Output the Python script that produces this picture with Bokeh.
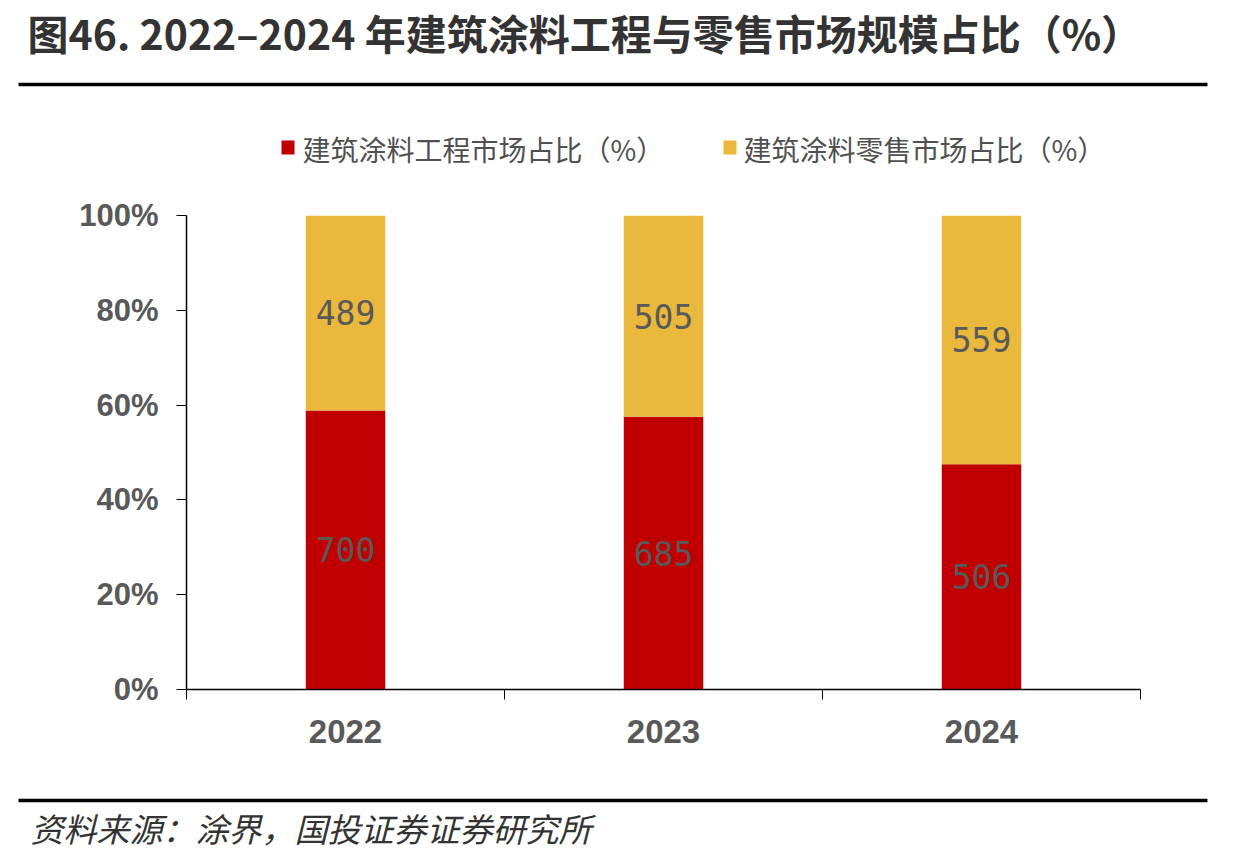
from bokeh.plotting import figure
from bokeh.layouts import column
from bokeh.models import (ColumnDataSource, Range1d, FixedTicker, NumeralTickFormatter,
                          CustomJSTickFormatter)
from bokeh.core.properties import value
from bokeh.embed import file_html
from bokeh.resources import INLINE

# Market size data (亿元) for architectural coatings
years = ["2022", "2023", "2024"]
engineering = [700, 685, 506]
retail = [489, 505, 559]
series_names = ["建筑涂料工程市场占比（%）", "建筑涂料零售市场占比（%）"]
y_ticks = [0, 0.2, 0.4, 0.6, 0.8, 1.0]
colors = ["#C00000", "#E9B83D"]

title_text = "图46. 2022–2024 年建筑涂料工程与零售市场规模占比（%）"
source_text = "资料来源：涂界，国投证券证券研究所"

W = 1247
CJK = "Noto Sans CJK SC"


def blank(height):
    """A canvas-sized figure whose data units are pixels (y grows downward)."""
    f = figure(width=W, height=height, x_range=Range1d(0, W), y_range=Range1d(height, 0),
               x_axis_type=None, y_axis_type=None, output_backend="svg",
               toolbar_location=None, min_border=0, frame_align=False)
    f.outline_line_color = None
    f.xgrid.visible = False
    f.ygrid.visible = False
    f.background_fill_color = "white"
    f.border_fill_color = "white"
    return f


# ---- header: title, rule, legend ----
TOP_H = 175
head = blank(TOP_H)
head.text(x=[27], y=[31], text=[title_text], text_font=value(CJK),
          text_font_style="bold", text_font_size="41px", text_color="#333333",
          text_baseline="middle")
head.segment(x0=[18], y0=[84], x1=[1207], y1=[84], line_color="black", line_width=3.5)
head.rect(x=[287.5, 729.5], y=[147, 147], width=13, height=14, fill_color=colors,
          line_color=None)
head.text(x=[302, 743], y=[148, 148], text=series_names, text_font=value(CJK),
          text_font_size="28px", text_color="#505050", text_baseline="middle")

# ---- main chart ----
totals = [e + r for e, r in zip(engineering, retail)]
eng_share = [e / t for e, t in zip(engineering, totals)]
ret_share = [r / t for r, t in zip(retail, totals)]
xs = [i + 0.5 for i in range(len(years))]

src = ColumnDataSource(dict(x=xs, eng=eng_share, ret=ret_share))
lab_src = ColumnDataSource(dict(
    x=xs + xs,
    y=[s / 2 for s in eng_share] + [e + r / 2 for e, r in zip(eng_share, ret_share)],
    text=[str(v) for v in engineering] + [str(v) for v in retail],
))

MAIN_H = 615  # canvas rows 175..790
p = figure(width=W, height=MAIN_H, x_range=Range1d(0, 3), y_range=Range1d(0, 1),
           output_backend="svg", toolbar_location=None, frame_align=False,
           min_border_left=186, min_border_right=107, min_border_top=40,
           min_border_bottom=101)
p.outline_line_color = None
p.xgrid.visible = False
p.ygrid.visible = False
p.background_fill_color = "white"
p.border_fill_color = "white"

p.vbar_stack(["eng", "ret"], x="x", width=0.25, color=colors, line_color=None, source=src)

p.text(x="x", y="y", text="text", source=lab_src, text_align="center",
       text_baseline="middle", text_font=value("DejaVu Sans Mono"),
       text_font_size="33px", text_color="#595959")

# x axis: category labels centred, boundary ticks between categories
xa = p.xaxis[0]
xa.ticker = FixedTicker(ticks=xs, minor_ticks=[0, 1, 2, 3])
xa.formatter = CustomJSTickFormatter(args=dict(labels=years),
                                     code="return labels[Math.floor(tick)];")
xa.major_tick_out = 0
xa.major_tick_in = 0
xa.minor_tick_out = 10
xa.minor_tick_in = 0
xa.minor_tick_line_color = "black"
xa.axis_line_color = "black"
xa.axis_line_width = 1.5
xa.major_label_text_font = "Liberation Sans"
xa.major_label_text_font_style = "bold"
xa.major_label_text_font_size = "33px"
xa.major_label_text_color = "#595959"
xa.major_label_standoff = 20

ya = p.yaxis[0]
ya.ticker = FixedTicker(ticks=y_ticks, minor_ticks=[])
ya.formatter = NumeralTickFormatter(format="0%")
ya.major_tick_out = 10
ya.major_tick_in = 0
ya.major_tick_line_color = "black"
ya.axis_line_color = "black"
ya.axis_line_width = 1.5
ya.major_label_text_font = "Liberation Sans"
ya.major_label_text_font_style = "bold"
ya.major_label_text_font_size = "31px"
ya.major_label_text_color = "#595959"
ya.major_label_standoff = 18

# ---- footer: rule and source note ----
FOOT_H = 858 - TOP_H - MAIN_H
foot = blank(FOOT_H)
foot.segment(x0=[18], y0=[10], x1=[1207], y1=[10], line_color="black", line_width=3.5)
foot.text(x=[30], y=[37], text=[source_text], text_font=value(CJK),
          text_font_style="italic", text_font_size="33px", text_color="#333333",
          text_baseline="middle")

layout = column(head, p, foot, spacing=0)
open("out.html", "w").write(file_html(layout, INLINE))
